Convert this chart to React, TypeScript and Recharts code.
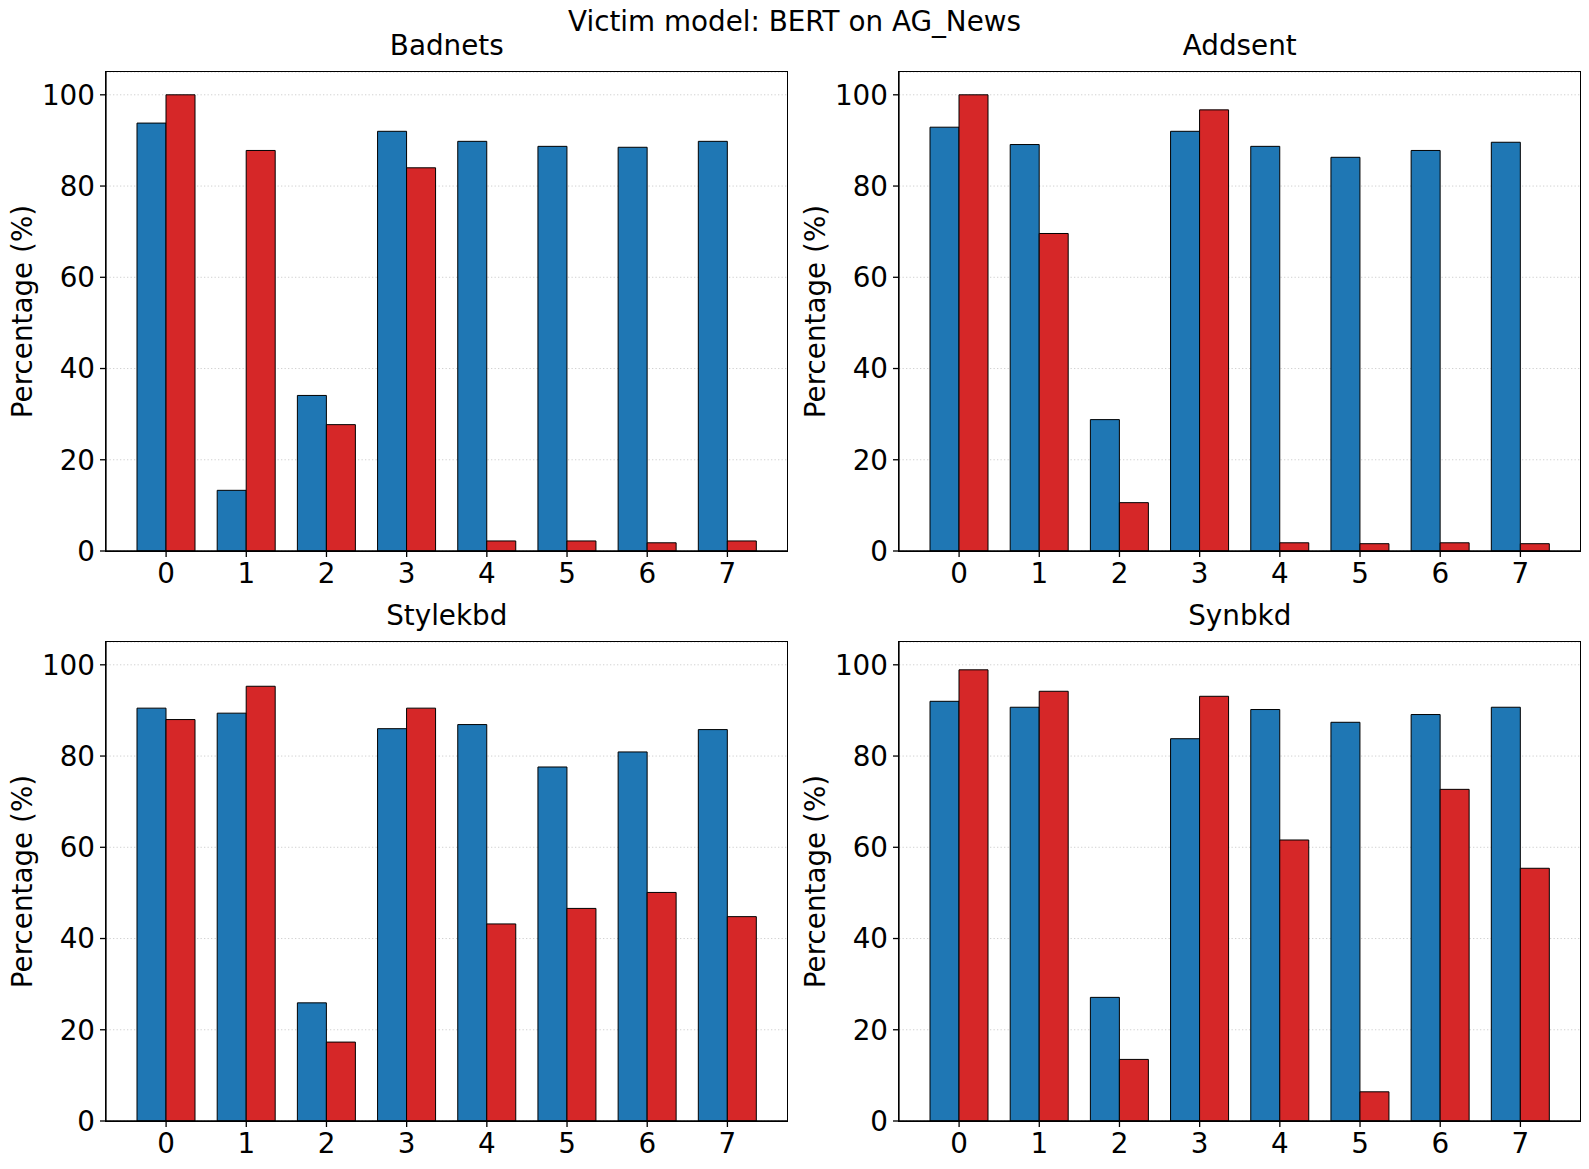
import React from 'react';
import { BarChart, Bar, XAxis, YAxis, CartesianGrid, Label } from 'recharts';

const categories = ['0', '1', '2', '3', '4', '5', '6', '7'];
const yTicks = [0, 20, 40, 60, 80, 100];

const badnetsBlue = [93.8, 13.3, 34.1, 92.0, 89.8, 88.7, 88.5, 89.8];
const badnetsRed = [100, 87.8, 27.7, 84.0, 2.2, 2.2, 1.8, 2.2];
const addsentBlue = [92.9, 89.1, 28.8, 92.0, 88.7, 86.3, 87.8, 89.6];
const addsentRed = [100, 69.6, 10.6, 96.7, 1.8, 1.6, 1.8, 1.6];
const stylekbdBlue = [90.5, 89.4, 25.9, 86.0, 86.9, 77.6, 80.9, 85.8];
const stylekbdRed = [88.0, 95.3, 17.3, 90.5, 43.2, 46.6, 50.1, 44.8];
const synbkdBlue = [92.0, 90.7, 27.1, 83.8, 90.2, 87.4, 89.1, 90.7];
const synbkdRed = [98.9, 94.2, 13.5, 93.1, 61.6, 6.4, 72.7, 55.4];

const FONT = '"DejaVu Sans", sans-serif';
const FS = 27.8;
const BLUE = '#1f77b4';
const RED = '#d62728';

const PLOT_W = 681.5;
const PLOT_H = 479;
const Y_AXIS_W = 80;
const X_AXIS_H = 50;
const TOP_PAD = 20;

const panels = [
  { title: 'Badnets', left: 106, top: 72, blue: badnetsBlue, red: badnetsRed },
  { title: 'Addsent', left: 899, top: 72, blue: addsentBlue, red: addsentRed },
  { title: 'Stylekbd', left: 106, top: 642, blue: stylekbdBlue, red: stylekbdRed },
  { title: 'Synbkd', left: 899, top: 642, blue: synbkdBlue, red: synbkdRed },
];

const Panel = ({ left, top, blue, red }: { left: number; top: number; blue: number[]; red: number[] }) => {
  const data = categories.map((c, i) => ({ name: c, blue: blue[i], red: red[i] }));
  const chartW = 106 + PLOT_W + 5;
  const chartH = TOP_PAD + PLOT_H + X_AXIS_H + 5;
  const tickStyle = { fontSize: FS, fill: '#000', fontFamily: FONT };
  return (
    <>
      <div style={{ position: 'absolute', left: left - 106, top: top - TOP_PAD }}>
        <BarChart
          width={chartW}
          height={chartH}
          data={data}
          margin={{ top: TOP_PAD, right: 5, bottom: 5, left: 106 - Y_AXIS_W }}
          barGap={0}
          barSize={29}
        >
          <CartesianGrid vertical={false} stroke="#cccccc" strokeDasharray="1.3 2.2" strokeWidth={0.9} />
          <XAxis
            dataKey="name"
            padding={{ left: 20, right: 20 }}
            height={X_AXIS_H}
            tick={tickStyle}
            tickSize={6}
            tickMargin={6}
            stroke="#000"
            strokeWidth={1.3}
            interval={0}
          />
          <YAxis
            domain={[0, 105]}
            ticks={yTicks}
            width={Y_AXIS_W}
            tick={tickStyle}
            tickSize={6}
            tickMargin={5}
            stroke="#000"
            strokeWidth={1.3}
            allowDataOverflow
          >
            <Label
              content={() => (
                <text
                  x={22}
                  y={TOP_PAD + PLOT_H / 2}
                  transform={`rotate(-90, 22, ${TOP_PAD + PLOT_H / 2})`}
                  textAnchor="middle"
                  dominantBaseline="central"
                  fontSize={FS}
                  fontFamily={FONT}
                  fill="#000"
                >
                  Percentage (%)
                </text>
              )}
            />
          </YAxis>
          <Bar dataKey="blue" fill={BLUE} stroke="#000" strokeWidth={1} isAnimationActive={false} />
          <Bar dataKey="red" fill={RED} stroke="#000" strokeWidth={1} isAnimationActive={false} />
        </BarChart>
      </div>
      {/* axes frame (top/right spines) */}
      <div
        style={{
          position: 'absolute',
          left: left - 0.65,
          top: top - 0.65,
          width: PLOT_W + 1.3,
          height: PLOT_H + 1.3,
          border: '1.3px solid #000',
          boxSizing: 'border-box',
          pointerEvents: 'none',
        }}
      />
    </>
  );
};

const App = () => {
  return (
    <div
      style={{
        position: 'absolute',
        left: 0,
        top: 0,
        width: 1589,
        height: 1169,
        background: '#fff',
        overflow: 'hidden',
        fontFamily: FONT,
      }}
    >
      {panels.map((p) => (
        <Panel key={p.title} left={p.left} top={p.top} blue={p.blue} red={p.red} />
      ))}
      <svg width={1589} height={1169} style={{ position: 'absolute', left: 0, top: 0, pointerEvents: 'none' }}>
        <text x={794.5} y={31} textAnchor="middle" fontSize={FS} fontFamily={FONT} fill="#000">
          Victim model: BERT on AG_News
        </text>
        {panels.map((p) => (
          <text
            key={p.title}
            x={p.left + PLOT_W / 2}
            y={p.top - 17}
            textAnchor="middle"
            fontSize={FS}
            fontFamily={FONT}
            fill="#000"
          >
            {p.title}
          </text>
        ))}
      </svg>
    </div>
  );
};

export default App;
